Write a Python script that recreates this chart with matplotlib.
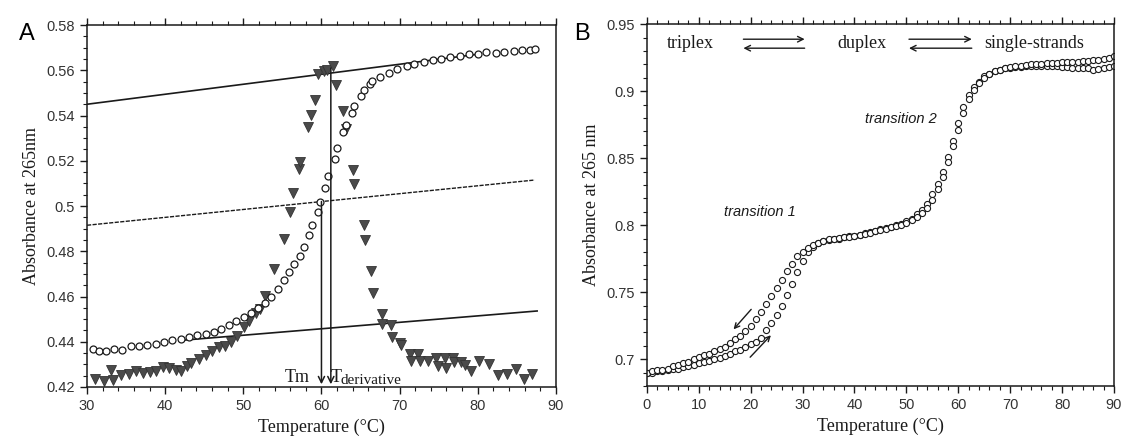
import matplotlib.pyplot as plt
import numpy as np
from matplotlib.ticker import MultipleLocator, FormatStrFormatter

# ---- panel A : melting curve (circles) and its derivative (triangles) ----
a_circ_T = [30.7, 31.5, 32.4, 33.4, 34.5, 35.6, 36.7, 37.7, 38.8, 39.9, 40.9, 42.0,
            43.1, 44.1, 45.2, 46.2, 47.2, 48.2, 49.1, 50.1, 51.0, 51.9, 52.8, 53.6,
            54.4, 55.2, 55.9, 56.5, 57.2, 57.8, 58.4, 58.8, 59.5, 59.8, 60.5, 60.8,
            61.7, 62.0, 62.8, 63.1, 63.9, 64.2, 65.1, 65.4, 66.2, 66.5, 67.5, 68.6,
            69.7, 70.9, 71.9, 73.1, 74.3, 75.3, 76.5, 77.7, 78.9, 80.0, 81.0, 82.3,
            83.4, 84.7, 85.7, 86.7, 87.3]
a_circ_A = [0.4370, 0.4359, 0.4360, 0.4368, 0.4365, 0.4380, 0.4380, 0.4387, 0.4392, 0.4399,
            0.4406, 0.4413, 0.4421, 0.4428, 0.4435, 0.4443, 0.4458, 0.4473, 0.4491, 0.4510,
            0.4527, 0.4548, 0.4572, 0.4598, 0.4634, 0.4672, 0.4708, 0.4742, 0.4778, 0.4818,
            0.4870, 0.4915, 0.4973, 0.5018, 0.5080, 0.5133, 0.5209, 0.5258, 0.5327, 0.5357,
            0.5413, 0.5442, 0.5485, 0.5511, 0.5538, 0.5552, 0.5570, 0.5588, 0.5607, 0.5617,
            0.5629, 0.5636, 0.5644, 0.5651, 0.5659, 0.5665, 0.5670, 0.5672, 0.5680, 0.5675,
            0.5680, 0.5685, 0.5690, 0.5690, 0.5695]

a_tri_T = [31.0, 32.2, 33.1, 33.3, 34.4, 35.4, 36.3, 37.1, 38.0, 38.8, 39.7, 40.5,
           41.4, 42.0, 42.8, 43.3, 44.3, 45.2, 46.0, 46.9, 47.6, 48.4, 49.2, 50.1,
           50.7, 51.6, 52.1, 52.8, 53.9, 55.2, 56.0, 56.4, 57.1, 57.3, 58.3, 58.6,
           59.2, 59.6, 60.3, 60.7, 61.5, 61.8, 62.8, 63.1, 64.0, 64.2, 65.4, 65.6,
           66.4, 66.6, 67.7, 67.8, 68.9, 69.0, 70.0, 70.2, 71.3, 71.4, 72.3, 72.6,
           73.6, 74.7, 74.9, 75.8, 76.0, 76.8, 77.0, 77.9, 78.4, 79.2, 80.2, 81.5,
           82.6, 83.8, 84.9, 85.9, 87.0]
a_tri_A = [0.4237, 0.4226, 0.4276, 0.4232, 0.4252, 0.4259, 0.4271, 0.4262, 0.4265, 0.4270,
           0.4288, 0.4285, 0.4276, 0.4270, 0.4293, 0.4308, 0.4323, 0.4340, 0.4360, 0.4375,
           0.4382, 0.4400, 0.4426, 0.4464, 0.4493, 0.4527, 0.4545, 0.4604, 0.4723, 0.4856,
           0.4973, 0.5057, 0.5165, 0.5194, 0.5349, 0.5401, 0.5467, 0.5585, 0.5597, 0.5600,
           0.5617, 0.5533, 0.5422, 0.5342, 0.5158, 0.5096, 0.4915, 0.4849, 0.4713, 0.4615,
           0.4524, 0.4480, 0.4473, 0.4421, 0.4395, 0.4384, 0.4347, 0.4315, 0.4347, 0.4315,
           0.4315, 0.4326, 0.4293, 0.4327, 0.4286, 0.4327, 0.4311, 0.4311, 0.4296, 0.4271,
           0.4315, 0.4300, 0.4252, 0.4256, 0.4281, 0.4237, 0.4259]

# baselines (start / end points) and the two Tm markers
upper_base = ([30, 80], [0.545, 0.5671])
mid_base = ([30, 87.3], [0.4915, 0.5115])
lower_base = ([42, 87.6], [0.4406, 0.4536])
tm_T, tm_top = 60.0, 0.502
tder_T, tder_top = 61.2, 0.561

# ---- panel B : triplex melting, heating and cooling ----
b_T = list(range(0, 91))
b_heat = [0.690, 0.690, 0.691, 0.691, 0.692, 0.6926, 0.693, 0.694, 0.695, 0.696,
          0.697, 0.698, 0.699, 0.700, 0.701, 0.7025, 0.704, 0.706, 0.707, 0.709,
          0.711, 0.713, 0.716, 0.722, 0.727, 0.733, 0.740, 0.748, 0.756, 0.765,
          0.773, 0.780, 0.784, 0.787, 0.788, 0.789, 0.790, 0.790, 0.791, 0.792,
          0.792, 0.793, 0.794, 0.795, 0.796, 0.797, 0.798, 0.799, 0.800, 0.801,
          0.803, 0.805, 0.808, 0.811, 0.816, 0.823, 0.831, 0.840, 0.851, 0.863,
          0.876, 0.888, 0.897, 0.903, 0.907, 0.911, 0.913, 0.915, 0.916, 0.917,
          0.9175, 0.918, 0.918, 0.9185, 0.919, 0.919, 0.919, 0.919, 0.9185, 0.9185,
          0.918, 0.918, 0.9175, 0.9175, 0.917, 0.917, 0.916, 0.9165, 0.917, 0.918,
          0.9185]
b_cool = [0.690, 0.691, 0.692, 0.692, 0.693, 0.695, 0.696, 0.697, 0.698, 0.700,
          0.7015, 0.703, 0.704, 0.706, 0.7075, 0.709, 0.712, 0.715, 0.717, 0.721,
          0.725, 0.730, 0.735, 0.741, 0.747, 0.753, 0.759, 0.766, 0.771, 0.777,
          0.780, 0.783, 0.785, 0.787, 0.788, 0.7895, 0.790, 0.7905, 0.791, 0.7915,
          0.792, 0.793, 0.7935, 0.7945, 0.7955, 0.7965, 0.7975, 0.7985, 0.7995, 0.8005,
          0.802, 0.804, 0.806, 0.809, 0.813, 0.819, 0.827, 0.836, 0.847, 0.859,
          0.871, 0.884, 0.894, 0.901, 0.906, 0.910, 0.913, 0.915, 0.916, 0.917,
          0.918, 0.9185, 0.919, 0.9195, 0.920, 0.920, 0.9205, 0.921, 0.921, 0.921,
          0.9215, 0.9215, 0.922, 0.922, 0.9225, 0.9225, 0.923, 0.923, 0.924, 0.925,
          0.926]

ink = '#1a1a1a'
serif = ['Liberation Serif', 'DejaVu Serif']
sans = ['Liberation Sans', 'DejaVu Sans']
plt.rcParams['font.family'] = sans

fig = plt.figure(figsize=(11.23, 4.4), dpi=100)
axA = fig.add_axes([0.0775, 0.1205, 0.4175, 0.8225])
axB = fig.add_axes([0.576, 0.1227, 0.416, 0.8223])

# --- A ---
axA.plot(*upper_base, color=ink, lw=1.2)
axA.plot(*mid_base, color=ink, lw=1.0, ls=(0, (3, 1)))
axA.plot(*lower_base, color=ink, lw=1.2)
axA.plot(a_tri_T, a_tri_A, 'v', ms=6.5, color='#4a4a4a', mec='#333333', mew=0.6)
axA.plot(a_circ_T, a_circ_A, 'o', ms=5, mfc='white', mec=ink, mew=0.9)
for x, top in [(tm_T, tm_top), (tder_T, tder_top)]:
    axA.annotate('', xy=(x, 0.4212), xytext=(x, top),
                 arrowprops=dict(arrowstyle='->', lw=1.1, color=ink,
                                 shrinkA=0, shrinkB=0, mutation_scale=11))
axA.text(55.3, 0.4222, 'Tm', family=serif, fontsize=13, color=ink)
axA.text(61.2, 0.4222, 'T', family=serif, fontsize=13, color=ink)
axA.text(62.4, 0.4214, 'derivative', family=serif, fontsize=11, color=ink)

axA.set_xlim(30, 90)
axA.set_ylim(0.42, 0.58)
axA.xaxis.set_major_locator(MultipleLocator(10))
axA.xaxis.set_minor_locator(MultipleLocator(2))
axA.yaxis.set_major_locator(MultipleLocator(0.02))
axA.yaxis.set_minor_locator(MultipleLocator(0.005))
axA.yaxis.set_major_formatter(FormatStrFormatter('%g'))
axA.set_xlabel('Temperature (°C)', family=serif, fontsize=13, color=ink, labelpad=4)
axA.set_ylabel('Absorbance at 265nm', family=serif, fontsize=13, color=ink, labelpad=5)

# --- B ---
axB.plot(b_T, b_heat, 'o', ms=4.4, mfc='white', mec=ink, mew=0.8)
axB.plot(b_T, b_cool, 'o', ms=4.4, mfc='white', mec=ink, mew=0.8)
axB.text(3.8, 0.9359, 'triplex', family=serif, fontsize=13, color=ink, va='center')
axB.text(36.8, 0.9359, 'duplex', family=serif, fontsize=13, color=ink, va='center')
axB.text(65.0, 0.9359, 'single-strands', family=serif, fontsize=13, color=ink, va='center')
for x0, x1 in [(18.6, 30.4), (50.5, 62.6)]:
    axB.annotate('', xy=(x1, 0.9388), xytext=(x0, 0.9388),
                 arrowprops=dict(arrowstyle='->', lw=1.0, color=ink,
                                 shrinkA=0, shrinkB=0, mutation_scale=10))
    axB.annotate('', xy=(x0, 0.9321), xytext=(x1, 0.9321),
                 arrowprops=dict(arrowstyle='->', lw=1.0, color=ink,
                                 shrinkA=0, shrinkB=0, mutation_scale=10))
axB.text(21.8, 0.810, 'transition 1', style='italic', fontsize=10.5, color=ink,
         ha='center', va='center')
axB.text(49.0, 0.8793, 'transition 2', style='italic', fontsize=10.5, color=ink,
         ha='center', va='center')
axB.annotate('', xy=(16.7, 0.7223), xytext=(20.1, 0.7372),
             arrowprops=dict(arrowstyle='->', lw=1.0, color=ink,
                             shrinkA=0, shrinkB=0, mutation_scale=9))
axB.annotate('', xy=(23.9, 0.7179), xytext=(19.9, 0.7015),
             arrowprops=dict(arrowstyle='->', lw=1.0, color=ink,
                             shrinkA=0, shrinkB=0, mutation_scale=9))

axB.set_xlim(0, 90)
axB.set_ylim(0.68, 0.95)
axB.xaxis.set_major_locator(MultipleLocator(10))
axB.xaxis.set_minor_locator(MultipleLocator(2))
axB.yaxis.set_major_locator(MultipleLocator(0.05))
axB.yaxis.set_minor_locator(MultipleLocator(0.01))
axB.yaxis.set_major_formatter(FormatStrFormatter('%g'))
axB.set_xlabel('Temperature (°C)', family=serif, fontsize=13, color=ink, labelpad=4)
axB.set_ylabel('Absorbance at 265 nm', family=serif, fontsize=13, color=ink, labelpad=5)

for ax in (axA, axB):
    for s in ax.spines.values():
        s.set_color(ink)
        s.set_linewidth(1.1)
    ax.tick_params(which='both', top=True, right=False, direction='out',
                   colors=ink, labelcolor='#333333', labelsize=10.5)
    ax.tick_params(which='major', length=5, width=1.0)
    ax.tick_params(which='minor', length=3, width=0.8)

fig.text(0.017, 0.922, 'A', fontsize=17, color='black', va='center')
fig.text(0.511, 0.922, 'B', fontsize=17, color='black', va='center')

fig.savefig('out.png', dpi=100, facecolor='white')
